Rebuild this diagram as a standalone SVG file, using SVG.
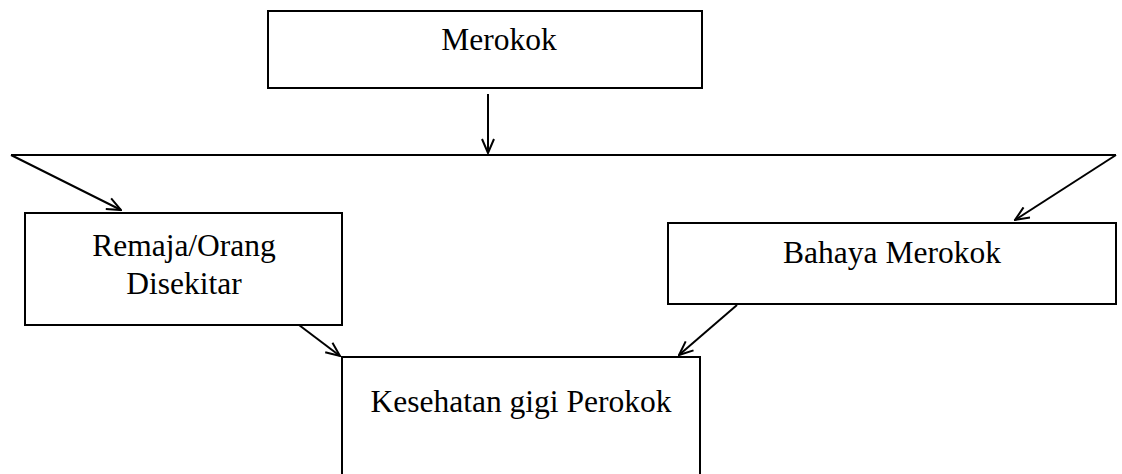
<svg xmlns="http://www.w3.org/2000/svg" width="1122" height="474" viewBox="0 0 1122 474">
<style>
.box{fill:#fff;stroke:#000;stroke-width:2}
.lbl{font-family:"Liberation Serif","Times New Roman",serif;font-size:31.5px;fill:#000;text-anchor:middle}
.ln{fill:none;stroke:#000;stroke-width:2}
</style>
<defs>
<marker id="ah" viewBox="0 0 16 14" refX="15" refY="7" markerWidth="16" markerHeight="14" markerUnits="userSpaceOnUse" orient="auto">
<path d="M1,1 L15,7 L1,13" fill="none" stroke="#000" stroke-width="2"/>
</marker>
</defs>
<rect width="1122" height="474" fill="#fff"/>
<g id="node-merokok">
<rect class="box" x="268" y="11" width="434" height="77"/>
<text class="lbl" x="499" y="50">Merokok</text>
</g>
<g id="node-remaja">
<rect class="box" x="25" y="213" width="317" height="112"/>
<text class="lbl" x="184" y="256">Remaja/Orang</text>
<text class="lbl" x="184" y="294">Disekitar</text>
</g>
<g id="node-bahaya">
<rect class="box" x="668" y="223" width="448" height="81"/>
<text class="lbl" x="892" y="263">Bahaya Merokok</text>
</g>
<g id="node-kesehatan">
<rect class="box" x="342" y="357" width="358" height="130"/>
<text class="lbl" x="521" y="412">Kesehatan gigi Perokok</text>
</g>
<g id="connectors">
<line class="ln" x1="488" y1="94" x2="488" y2="153" marker-end="url(#ah)"/>
<line class="ln" x1="11" y1="155" x2="1116" y2="155"/>
<line class="ln" x1="11" y1="155" x2="121" y2="210" marker-end="url(#ah)"/>
<line class="ln" x1="1116" y1="155" x2="1015" y2="220" marker-end="url(#ah)"/>
<line class="ln" x1="299" y1="325" x2="340" y2="356" marker-end="url(#ah)"/>
<line class="ln" x1="737" y1="305" x2="679" y2="355" marker-end="url(#ah)"/>
</g>
</svg>
